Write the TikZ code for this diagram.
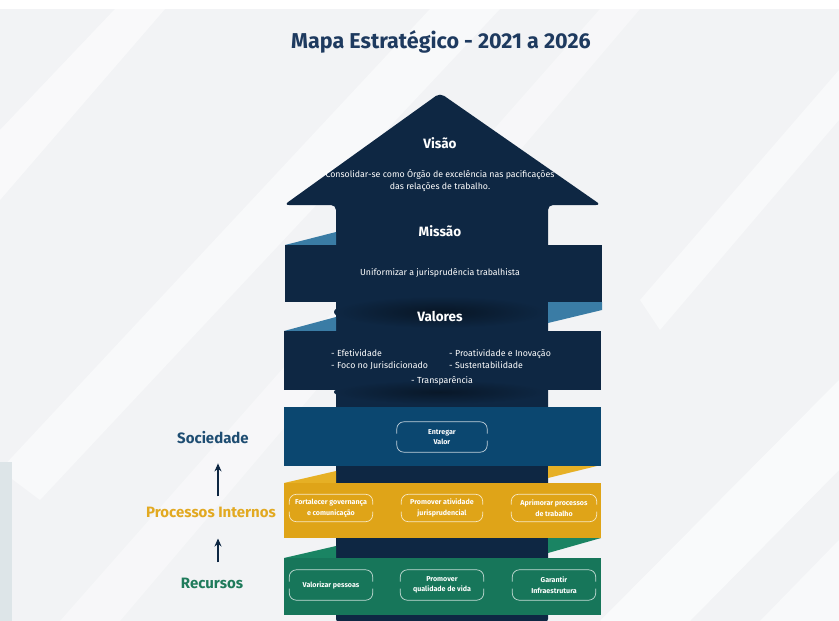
\documentclass[tikz,border=0pt]{standalone}
\usepackage{fontspec}
\setmainfont{Fira Sans}
\usetikzlibrary{arrows.meta}
\definecolor{navy}{HTML}{0E2743}
\definecolor{socblue}{HTML}{0B4770}
\definecolor{foldblue}{HTML}{3A7CA5}
\definecolor{gold}{HTML}{DFA418}
\definecolor{goldfold}{HTML}{E6B025}
\definecolor{green}{HTML}{17765A}
\definecolor{greenfold}{HTML}{1A8463}
\definecolor{titlecol}{HTML}{1E3A5F}
\definecolor{soccol}{HTML}{1E4D72}
\definecolor{proccol}{HTML}{E2A921}
\definecolor{reccol}{HTML}{1F7B5B}
\definecolor{bgcol}{HTML}{F2F3F5}
\definecolor{panelcol}{HTML}{DDE5E8}
\tikzset{
  ttl/.style={font=\fontsize{21.5}{25}\selectfont\bfseries, text=titlecol, inner sep=0},
  headtxt/.style={font=\fontsize{13.5}{16}\selectfont\bfseries, text=white, inner sep=0},
  bodytxt/.style={font=\fontsize{8.8}{12}\selectfont, text=white, inner sep=0, text height=6pt, text depth=2pt, align=center},
  pilltxt/.style={font=\fontsize{7.1}{10.5}\selectfont\bfseries, text=white, inner sep=0, align=center, minimum height=29pt},
  bracketline/.style={draw=white, draw opacity=0.75, line width=0.7pt, rounded corners=7pt},
  sidelabel/.style={font=\fontsize{15}{18}\selectfont\bfseries, inner sep=0},
  uparrow/.style={draw=navy, line width=1.1pt, -{Stealth[length=8pt,width=7pt]}},
}
\newcommand\mybracket[1]{%
  \draw[bracketline] ([yshift=3.5pt]#1.west) |- (#1.north) -| ([yshift=3.5pt]#1.east);
  \draw[bracketline] ([yshift=-3.5pt]#1.west) |- (#1.south) -| ([yshift=-3.5pt]#1.east);}
\begin{document}
\begin{tikzpicture}[x=1pt,y=-1pt]
% background
\fill[bgcol] (0,0) rectangle (839,621);
\useasboundingbox (0,0) rectangle (839,621);
\fill[white] (0,0) rectangle (839,9);
\fill[white, opacity=0.55] (0,130) -- (115,9) -- (165,9) -- (0,200) -- cycle;
\fill[white, opacity=0.5] (0,470) -- (430,9) -- (500,9) -- (40,500) -- cycle;
\fill[white, opacity=0.4] (60,621) -- (600,9) -- (640,9) -- (120,621) -- cycle;
\fill[white, opacity=0.6] (600,621) -- (839,380) -- (839,470) -- (690,621) -- cycle;
\fill[white, opacity=0.5] (640,300) -- (839,70) -- (839,120) -- (660,330) -- cycle;
\fill[white, opacity=0.5] (760,621) -- (839,540) -- (839,621) -- cycle;
\fill[panelcol] (0,462) rectangle (12,621);
% title
\node[ttl] (title) at (441,42) {Mapa Estratégico - 2021 a 2026};
% arrow shaft and head
\fill[navy, rounded corners=5pt] (336,624) -- (336,205) -- (284,205) -- (440,93) -- (601,205) -- (548,205) -- (548,624) -- cycle;
% folds
\fill[foldblue] (285,245) -- (336,232) -- (336,245) -- cycle;
\fill[foldblue] (548,302) -- (602,302) -- (602,310) -- (548,323) -- cycle;
\fill[foldblue] (284,331) -- (336,317) -- (336,331) -- cycle;
\fill[goldfold] (548,465) -- (601,465) -- (548,478) -- cycle;
\fill[goldfold] (284,483) -- (336,471) -- (336,483) -- cycle;
\fill[greenfold] (548,538) -- (601,538) -- (548,553) -- cycle;
\fill[greenfold] (284,558) -- (336,546) -- (336,558) -- cycle;
% bands
\fill[navy] (285,245) rectangle (602,302);
\fill[navy] (284,331) rectangle (601,390);
% shadows
\shade[inner color=navy!55!black, outer color=navy] (440,312) ellipse (106pt and 16pt);
\shade[inner color=navy!60!black, outer color=navy] (440,392) ellipse (106pt and 12pt);
\fill[socblue] (284,407) rectangle (601,466);
\fill[gold] (284,483) rectangle (601,538);
\fill[green] (284,558) rectangle (601,615);
% vision / mission / values texts
\node[headtxt] (visao) at (440,143) {Visão};
\node[bodytxt] (visaotxt) at (440,187) {Consolidar-se como Órgão de excelência nas pacificações\\das relações de trabalho.};
\node[headtxt] (missao) at (440,231) {Missão};
\node[bodytxt] (missaotxt) at (440,273) {Uniformizar a jurisprudência trabalhista};
\node[headtxt] (valores) at (440,316) {Valores};
\node[bodytxt, anchor=west] (v1) at (331,354) {- Efetividade};
\node[bodytxt, anchor=west] (v2) at (331,366) {- Foco no Jurisdicionado};
\node[bodytxt, anchor=west] (v3) at (449,354) {- Proatividade e Inovação};
\node[bodytxt, anchor=west] (v4) at (449,366) {- Sustentabilidade};
\node[bodytxt, anchor=west] (v5) at (411,381) {- Transparência};
% objective boxes
\node[pilltxt, minimum width=90pt, minimum height=30pt] (entregar) at (442,437) {Entregar\\Valor};
\node[pilltxt, minimum width=83pt, minimum height=27pt] (fortalecer) at (331,508) {Fortalecer governança\\e comunicação};
\node[pilltxt, minimum width=81pt, minimum height=27pt] (atividade) at (442,508) {Promover atividade\\jurisprudencial};
\node[pilltxt, minimum width=85pt, minimum height=27pt] (aprimorar) at (554,508) {Aprimorar processos\\de trabalho};
\node[pilltxt, minimum width=83pt, minimum height=30pt] (valorizar) at (331,585) {Valorizar pessoas};
\node[pilltxt, minimum width=83pt, minimum height=30pt] (qualidade) at (442,585) {Promover\\qualidade de vida};
\node[pilltxt, minimum width=83pt, minimum height=30pt] (garantir) at (554,585) {Garantir\\Infraestrutura};
\mybracket{entregar}
\mybracket{fortalecer}
\mybracket{atividade}
\mybracket{aprimorar}
\mybracket{valorizar}
\mybracket{qualidade}
\mybracket{garantir}
% side labels
\node[sidelabel, text=soccol] (soc) at (213,438) {Sociedade};
\node[sidelabel, text=proccol] (proc) at (211,512) {Processos Internos};
\node[sidelabel, text=reccol] (rec) at (212,583) {Recursos};
\draw[uparrow, shorten <=10pt, shorten >=19pt] ([xshift=7pt]proc.north) -- ([xshift=5pt]soc.south);
\draw[uparrow, shorten <=15pt, shorten >=21pt] ([xshift=6pt]rec.north) -- ([xshift=7pt]proc.south);
\end{tikzpicture}
\end{document}
